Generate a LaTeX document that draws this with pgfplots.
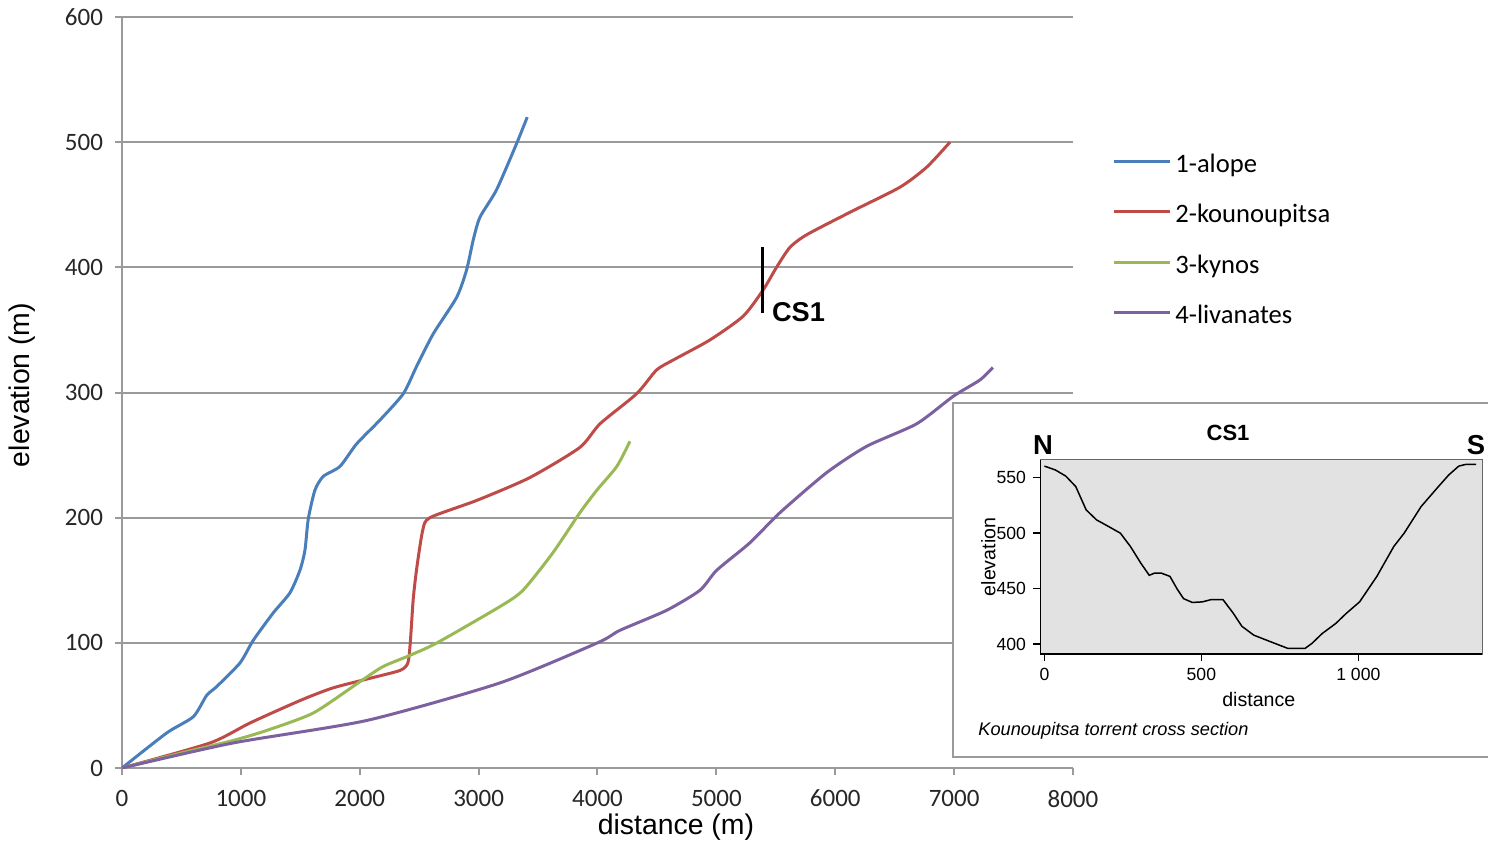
\documentclass[border=0pt]{standalone}
\usepackage{fontspec}
\setmainfont{Liberation Sans}
\newfontfamily\carlito{Carlito}
\usepackage{pgfplots}
\pgfplotsset{compat=1.18}
\definecolor{cblue}{HTML}{4A7EBB}
\definecolor{cred}{HTML}{BE4B48}
\definecolor{cgreen}{HTML}{98B954}
\definecolor{cpurple}{HTML}{7D60A0}
\definecolor{gridgray}{HTML}{9A9A9A}
\definecolor{insetgray}{HTML}{E2E2E2}
\begin{document}
\begin{tikzpicture}
\path[use as bounding box] (0pt,0pt) rectangle (744pt,423.5pt);
\begin{axis}[
  at={(61pt,39.5pt)}, anchor=south west,
  scale only axis, width=475.5pt, height=375.5pt,
  xmin=0, xmax=8000, ymin=0, ymax=600,
  xtick={0,1000,...,8000}, ytick={0,100,...,600},
  axis lines=left, axis line style={gridgray, line width=1pt, -},
  tick align=outside, major tick length=3.5pt,
  tick style={gridgray, line width=1pt},
  ymajorgrids, grid style={gridgray, line width=1pt},
  ticklabel style={font=\carlito\fontsize{12.5}{14}\selectfont, text=black!85},
  xticklabel style={yshift=-4pt},
  yticklabel style={xshift=-2.5pt},
  /pgf/number format/assume math mode=true,
  /pgf/number format/1000 sep={},
  xlabel={distance (m)}, ylabel={elevation (m)},
  every axis x label/.style={at={(axis description cs:0.5825,-0.0786)}, anchor=center,
     font=\fontsize{14.2}{16}\selectfont},
  every axis y label/.style={at={(axis description cs:-0.105,0.51)}, rotate=90, anchor=center,
     font=\fontsize{14.2}{16}\selectfont},
  legend style={at={(1.041,0.7005)}, anchor=west, draw=none, fill=none, inner sep=0pt,
     font=\carlito\fontsize{13.3}{15}\selectfont, row sep=12.2pt, column sep=2pt,
     nodes={inner sep=0pt, text height=9.5pt, text depth=3.5pt}},
  legend cell align=left,
  legend image code/.code={\draw[#1, line width=1.5pt] (0pt,2.4pt) -- (28pt,2.4pt);},
  every axis plot/.append style={line width=1.5pt, smooth, tension=0.4},
]
\addplot[cblue] coordinates {
(0,0) (376,28) (600,41) (712,58) (796,65) (993,84) (1104,102) (1273,124)
(1413,140) (1497,158) (1539,174) (1567,199) (1623,222) (1693,233) (1834,241)
(1974,259) (2170,278) (2366,299) (2479,321) (2619,347) (2815,376) (2899,398)
(2955,422) (3011,440) (3151,462) (3320,499) (3409,520)};
\addlegendentry{1-alope}
\addplot[cred] coordinates {
(0,0) (740,20) (1077,36) (1500,54) (1775,64) (2100,72) (2340,78) (2405,84)
(2425,100) (2450,135) (2480,160) (2530,190) (2590,200) (2990,214) (3430,232)
(3850,256) (4021,275) (4329,299) (4497,318) (4638,326) (4946,342) (5226,361)
(5394,382) (5506,400) (5619,416) (5759,426) (6124,444) (6544,464) (6769,480)
(6965,500)};
\addlegendentry{2-kounoupitsa}
\addplot[cgreen] coordinates {
(0,0) (500,12) (934,22) (1217,30) (1610,44) (2002,69) (2195,81) (2422,90)
(2650,100) (3180,129) (3373,142) (3625,172) (3852,204) (3995,222) (4163,241)
(4273,261)};
\addlegendentry{3-kynos}
\addplot[cpurple] coordinates {
(0,0) (934,20) (2060,38) (3180,68) (4000,100) (4189,110) (4582,126) (4862,142)
(5003,158) (5283,180) (5535,204) (5928,236) (6264,257) (6685,275) (6993,297)
(7217,310) (7326,320)};
\addlegendentry{4-livanates}
\draw[black, line width=1.5pt] (axis cs:5389,416) -- (axis cs:5389,363.5);
\node[anchor=west, inner sep=0pt, font=\bfseries\fontsize{13.6}{15}\selectfont]
  at (axis cs:5465,364) {CS1};
\end{axis}
% inset frame
\draw[gridgray, line width=0.8pt, fill=white] (476.5pt,45pt) rectangle (746pt,222pt);
\begin{axis}[
  at={(520pt,96.5pt)}, anchor=south west,
  scale only axis, width=221pt, height=97pt,
  xmin=-14, xmax=1394, ymin=391, ymax=566,
  xtick={0,500,1000}, ytick={400,450,500,550},
  xtick pos=left, ytick pos=left,
  axis background/.style={fill=insetgray},
  axis line style={black!60, line width=0.5pt},
  tick align=outside, major tick length=3.5pt,
  tick style={black, line width=0.7pt},
  ticklabel style={font=\fontsize{8.8}{10}\selectfont},
  /pgf/number format/assume math mode=true,
  /pgf/number format/1000 sep={\ },
  xlabel={distance}, ylabel={elevation},
  every axis x label/.style={at={(axis description cs:0.495,-0.237)}, anchor=center,
     font=\fontsize{9.8}{11}\selectfont},
  every axis y label/.style={at={(axis description cs:-0.117,0.5)}, rotate=90, anchor=center,
     font=\fontsize{9.8}{11}\selectfont},
]
\addplot[black, line width=0.75pt] coordinates {
(0,560.5) (35,557) (68,551.5) (100,542) (133,521) (166,512) (198,507) (242,500)
(274,488) (307,473) (334,462) (351,464) (372,464) (400,461) (422,450) (443,441)
(471,437.5) (503,438) (530,440) (569,440) (601,428) (629,416) (667,408) (721,402)
(776,396) (830,396) (852,400.5) (885,409.5) (928,418.5) (961,427.5) (1004,438)
(1059,461) (1113,488) (1146,500) (1200,524) (1255,542) (1288,552.5) (1320,560.5)
(1342,562) (1375,562)};
\draw[black, line width=1pt] (rel axis cs:0,1) -- (rel axis cs:0,0) -- (rel axis cs:1,0);
\end{axis}
\node[font=\bfseries\fontsize{13.7}{15}\selectfont] at (521.5pt,201pt) {N};
\node[font=\bfseries\fontsize{13.7}{15}\selectfont] at (738pt,201pt) {S};
\node[font=\bfseries\fontsize{11}{13}\selectfont] at (614pt,207pt) {CS1};
\node[anchor=west, inner sep=0pt, font=\itshape\fontsize{9.1}{11}\selectfont] at (489pt,58pt) {Kounoupitsa torrent cross section};
\end{tikzpicture}
\end{document}
